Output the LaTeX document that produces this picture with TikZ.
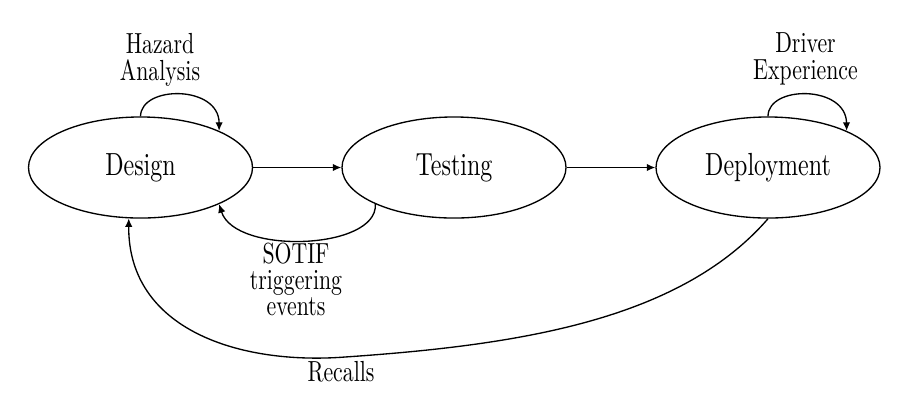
\documentclass[tikz,border=0pt]{standalone}
\usepackage{fontspec}
\setmainfont{lmroman10-regular}[Extension=.otf, FakeStretch=0.75]
\usetikzlibrary{shapes.geometric,arrows.meta}
\begin{document}
\begin{tikzpicture}[x=0.375pt,y=-0.375pt,
  state/.style={ellipse,draw,line width=0.5pt,minimum width=84pt,minimum height=37.9pt,inner sep=0pt,font=\fontsize{12}{14}\selectfont},
  lbl/.style={anchor=base,inner sep=0pt},
  conn/.style={line width=0.5pt,-{Latex[length=3.2pt,width=2.8pt]}}]
\path[use as bounding box] (0,0) rectangle (915,410);
\node[state] (des) at (140.5,167.5) {Design};
\node[state] (tst) at (454,167.5) {Testing};
\node[state] (dep) at (768,167.5) {Deployment};
\node[lbl,font=\fontsize{10.9}{10}\selectfont] (haz) at (160,80) {\vbox{\halign{\hfil#\hfil\cr Hazard\cr Analysis\cr}}};
\node[lbl,font=\fontsize{10.9}{10}\selectfont] (drv) at (805.5,79.5) {\vbox{\halign{\hfil#\hfil\cr Driver\cr Experience\cr}}};
\node[lbl,font=\fontsize{10.9}{9.75}\selectfont] (sot) at (296,315) {\vbox{\halign{\hfil#\hfil\cr SOTIF\cr triggering\cr events\cr}}};
\node[lbl,font=\fontsize{10.9}{10}\selectfont] (rec) at (341,381) {Recalls};
\coordinate (low) at (345,357);
\draw[conn] (des.north) .. controls (141,85) and (219,85) .. (des.25);
\draw[conn] (dep.north) .. controls (768,85) and (846,85) .. (dep.25);
\draw[conn] (des) -- (tst);
\draw[conn] (tst) -- (dep);
\draw[conn] (tst.205) .. controls (378,250) and (235,255) .. (des.-25);
\draw[conn] (dep.south) .. controls (680,320) and (520,345) .. (low) .. controls (240,365) and (128,330) .. (des.257);
\end{tikzpicture}
\end{document}
